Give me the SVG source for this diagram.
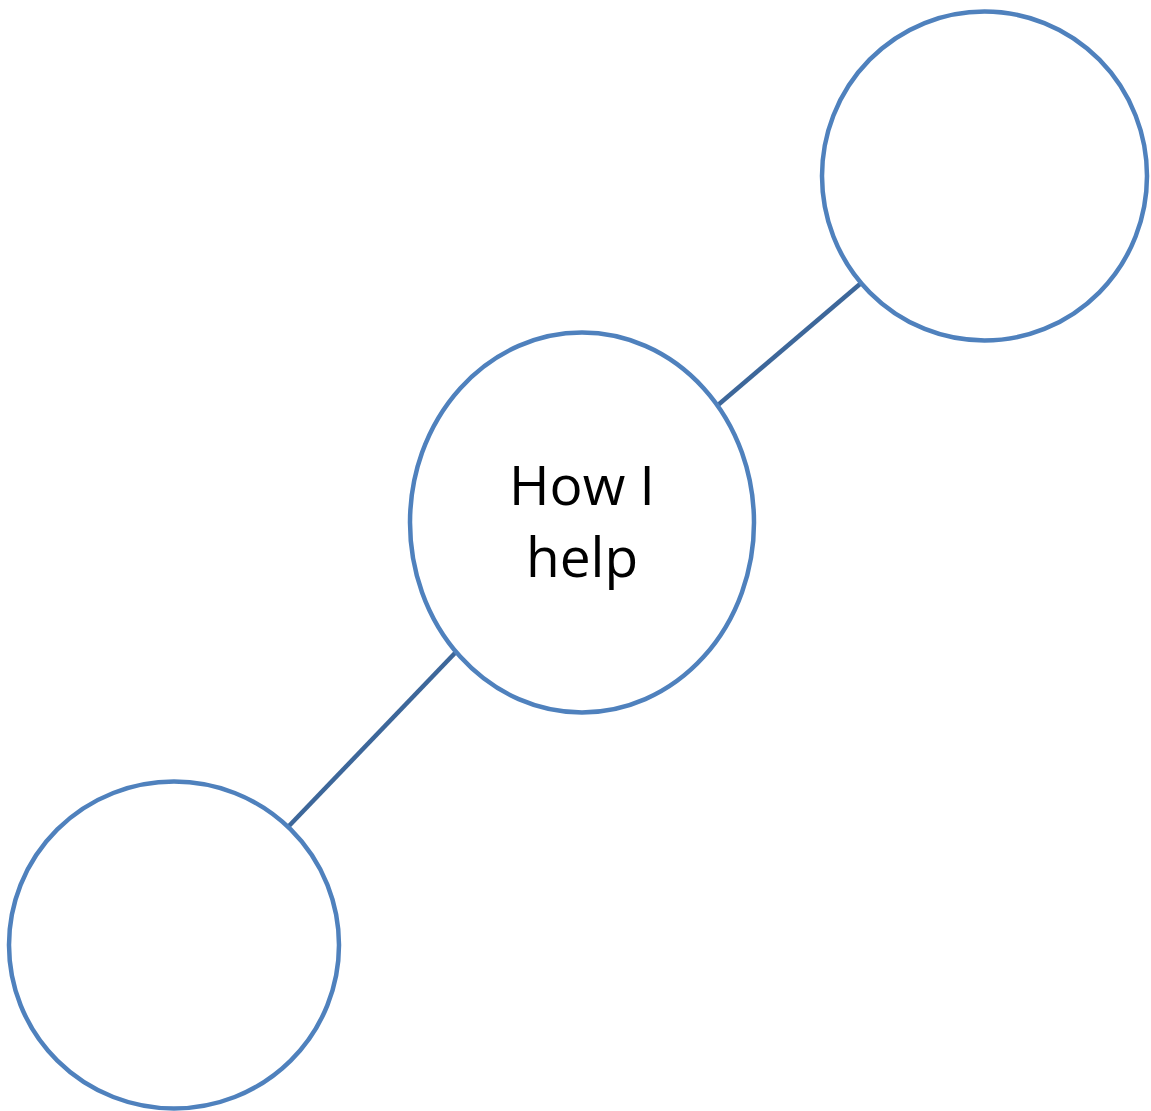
<svg xmlns="http://www.w3.org/2000/svg" width="1151" height="1111" viewBox="0 0 1151 1111">
<style>
.node{fill:#FFFFFF;stroke:#4F81BD;stroke-width:4.5}
.conn{stroke:#3D679A;stroke-width:4.5;fill:none}
.lbl{font-family:"Open Sans","Noto Sans",sans-serif;font-size:55px;fill:#000000;text-anchor:middle}
</style>
<rect width="1151" height="1111" fill="#FFFFFF"/>
<g id="connectors">
<line class="conn" x1="718" y1="405" x2="860" y2="284"/>
<line class="conn" x1="455" y1="653" x2="288" y2="827"/>
</g>
<g id="node-center">
<ellipse class="node" cx="582" cy="522.5" rx="172" ry="190"/>
<text class="lbl" x="582" y="505">How I</text>
<text class="lbl" x="582" y="577">help</text>
</g>
<g id="node-topright">
<ellipse class="node" cx="984.5" cy="176" rx="162.5" ry="164.5"/>
</g>
<g id="node-bottomleft">
<ellipse class="node" cx="174" cy="945" rx="165" ry="163.5"/>
</g>
</svg>
